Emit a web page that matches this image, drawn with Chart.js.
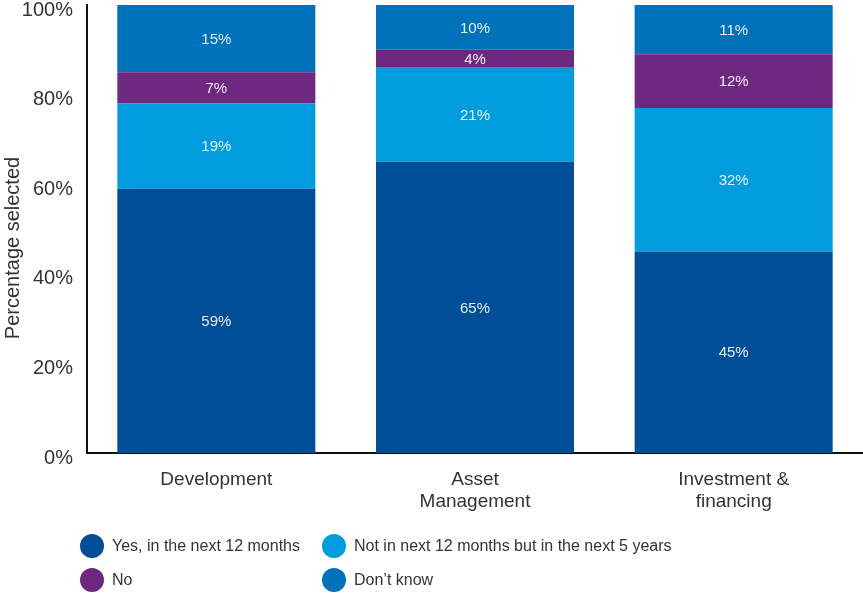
<!DOCTYPE html>
<html>
<head>
<meta charset="utf-8">
<script src="https://cdn.jsdelivr.net/npm/chart.js@4/dist/chart.umd.min.js"></script>
<style>
  html, body { margin: 0; padding: 0; background: #fff; }
  #wrap { width: 863px; height: 597px; position: relative; }
</style>
</head>
<body>
<div id="wrap"><canvas id="c" width="863" height="597"></canvas></div>
<script>
const categories = [["Development"], ["Asset", "Management"], ["Investment &", "financing"]];
const seriesNames = ["Yes, in the next 12 months", "Not in next 12 months but in the next 5 years", "No", "Don\u2019t know"];
const yesNext12 = [59, 65, 45];
const next5Years = [19, 21, 32];
const noValues = [7, 4, 12];
const dontKnow = [15, 10, 11];
const yTicks = [0, 20, 40, 60, 80, 100];
const yTitle = "Percentage selected";
const colors = ["#004E98", "#009CDE", "#6E2880", "#0071BB"];

const FONT = "'Liberation Sans', Arial, sans-serif";
const seriesValues = [yesNext12, next5Years, noValues, dontKnow];

const labelPlugin = {
  id: 'segLabels',
  afterDatasetsDraw(chart) {
    const ctx = chart.ctx;
    ctx.save();
    ctx.font = "15px " + FONT;
    ctx.fillStyle = "rgba(255,255,255,0.9)";
    ctx.textAlign = "center";
    ctx.textBaseline = "middle";
    chart.data.datasets.forEach((ds, di) => {
      const meta = chart.getDatasetMeta(di);
      meta.data.forEach((bar, i) => {
        const p = bar.getProps(['x', 'y', 'base'], true);
        ctx.fillText(ds.data[i] + "%", p.x, (p.y + p.base) / 2 + 1);
      });
    });
    ctx.restore();
  }
};

const extrasPlugin = {
  id: 'extras',
  afterDraw(chart) {
    const ctx = chart.ctx;
    ctx.save();
    // y-axis title
    ctx.translate(13, 248);
    ctx.rotate(-Math.PI / 2);
    ctx.font = "20px " + FONT;
    ctx.fillStyle = "#333";
    ctx.textAlign = "center";
    ctx.textBaseline = "middle";
    ctx.fillText(yTitle, 0, 0);
    ctx.restore();

    // legend in two columns
    ctx.save();
    ctx.font = "16px " + FONT;
    ctx.textBaseline = "middle";
    ctx.textAlign = "left";
    const colX = [92, 334];
    const rowY = [546, 580];
    chart.data.datasets.forEach((ds, i) => {
      const cx = colX[i % 2], cy = rowY[Math.floor(i / 2)];
      ctx.beginPath();
      ctx.fillStyle = ds.backgroundColor;
      ctx.arc(cx, cy, 12, 0, Math.PI * 2);
      ctx.fill();
      ctx.fillStyle = "#333";
      ctx.fillText(ds.label, cx + 20, cy + 1);
    });
    ctx.restore();
  }
};

new Chart(document.getElementById('c'), {
  type: 'bar',
  data: {
    labels: categories,
    datasets: seriesNames.map((name, i) => ({
      label: name,
      data: seriesValues[i],
      backgroundColor: colors[i],
      borderWidth: 0,
      categoryPercentage: 1,
      barPercentage: 0.7655
    }))
  },
  options: {
    responsive: false,
    animation: false,
    devicePixelRatio: 1,
    layout: { padding: { top: 5, right: 0, bottom: 0, left: 0 } },
    plugins: { legend: { display: false }, tooltip: { enabled: false } },
    scales: {
      x: {
        stacked: true,
        grid: { display: false, drawTicks: false },
        border: { display: true, color: "#111", width: 2 },
        ticks: { color: "#333", font: { family: FONT, size: 19 }, padding: 15, maxRotation: 0 },
        afterFit(scale) { scale.height = 144; scale.paddingLeft = 0; scale.paddingRight = 0; }
      },
      y: {
        stacked: true,
        min: 0,
        max: 100,
        grid: { display: false, drawTicks: false },
        border: { display: true, color: "#111", width: 2 },
        afterBuildTicks(scale) { scale.ticks = yTicks.map(v => ({ value: v })); },
        ticks: {
          color: "#333",
          font: { family: FONT, size: 20 },
          padding: 14,
          labelOffset: 5,
          callback: v => v + "%"
        },
        afterFit(scale) { scale.width = 87; scale.paddingTop = 0; scale.paddingBottom = 0; }
      }
    }
  },
  plugins: [labelPlugin, extrasPlugin]
});
</script>
</body>
</html>
